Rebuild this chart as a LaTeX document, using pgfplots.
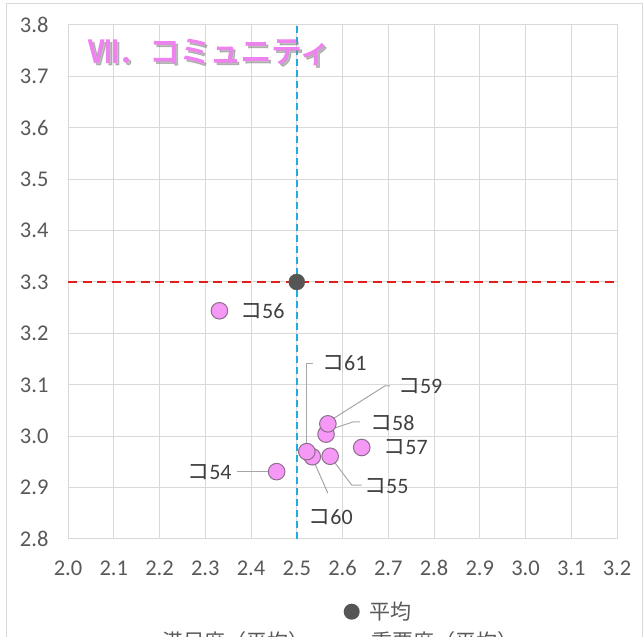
\documentclass[border=0pt]{standalone}
\usepackage{pgfplots}
\pgfplotsset{compat=1.18}
\usepackage{fontspec}
\setmainfont{Carlito}
\newfontfamily\jp{Noto Sans CJK JP}
\newfontfamily\jpb[FakeBold=3.5]{Noto Sans CJK JP}

\definecolor{gridc}{RGB}{217,217,217}
\definecolor{tickc}{RGB}{89,89,89}
\definecolor{labc}{RGB}{64,64,64}
\definecolor{ptfill}{RGB}{246,152,246}
\definecolor{ptdraw}{RGB}{140,110,140}
\definecolor{avgc}{RGB}{85,85,85}
\definecolor{redl}{RGB}{228,30,30}
\definecolor{bluel}{RGB}{30,172,225}
\definecolor{leadc}{RGB}{166,166,166}
\definecolor{titlec}{RGB}{238,130,238}

\pgfplotstableread{
x y
2.456 2.931
2.573 2.961
2.331 3.244
2.642 2.978
2.564 3.004
2.568 3.024
2.534 2.960
2.522 2.970
}\pointsdata

\newcommand{\lab}[1]{{\jp コ}#1}

\begin{document}
\begin{tikzpicture}[x=1bp,y=1bp]
\draw[gridc, line width=1bp] (6.7,-20) rectangle (642.5,633);
\begin{axis}[
  at={(68bp,98bp)}, anchor=south west,
  width=549bp, height=514bp, scale only axis,
  xmin=2, xmax=3.2, ymin=2.8, ymax=3.8,
  xtick={2.0,2.1,2.2,2.3,2.4,2.5,2.6,2.7,2.8,2.9,3.0,3.1,3.2},
  ytick={2.8,2.9,3.0,3.1,3.2,3.3,3.4,3.5,3.6,3.7,3.8},
  grid=major,
  major grid style={line width=1bp, draw=gridc},
  axis line style={line width=1bp, draw=gridc},
  major tick length=0pt,
  tick style={draw=none},
  /pgf/number format/.cd, fixed, fixed zerofill, precision=1, assume math mode=true,
  /pgfplots/.cd,
  ticklabel style={font=\fontsize{22.5bp}{25bp}\selectfont, text=tickc},
  xticklabel style={anchor=north, yshift=-18bp},
  yticklabel style={anchor=east, xshift=-16bp},
  clip=false,
]
% reference lines
\addplot[redl, line width=2.8bp, dash pattern=on 9bp off 5.5bp] coordinates {(2.0,3.3) (3.2,3.3)};
\addplot[bluel, line width=2.5bp, dash pattern=on 7bp off 4bp] coordinates {(2.5,2.8) (2.5,3.8)};
% leader lines
\addplot[leadc, line width=1bp] coordinates {(2.522,2.970) (2.522,3.142) (2.536,3.142)};
\addplot[leadc, line width=1bp] coordinates {(2.576,3.032) (2.693,3.098) (2.704,3.098)};
\addplot[leadc, line width=1bp] coordinates {(2.580,3.015) (2.624,3.028) (2.638,3.028)};
\addplot[leadc, line width=1bp] coordinates {(2.576,2.957) (2.620,2.905) (2.642,2.905)};
\addplot[leadc, line width=1bp] coordinates {(2.536,2.954) (2.568,2.889)};
\addplot[leadc, line width=1bp] coordinates {(2.369,2.931) (2.456,2.931)};
% points
\addplot[only marks, mark=*, mark size=8.3bp, mark options={fill=ptfill, draw=ptdraw, line width=1bp}] table[x=x,y=y] {\pointsdata};
\addplot[only marks, mark=*, mark size=8bp, mark options={fill=avgc, draw=avgc}] coordinates {(2.5,3.3)};
% labels
\begin{scope}[every node/.style={font=\fontsize{22bp}{25bp}\selectfont, text=labc, inner sep=0pt}]
\node[anchor=west] at (axis cs:2.376,3.244) {\lab{56}};
\node[anchor=west] at (axis cs:2.555,3.142) {\lab{61}};
\node[anchor=west] at (axis cs:2.721,3.098) {\lab{59}};
\node[anchor=west] at (axis cs:2.660,3.026) {\lab{58}};
\node[anchor=west] at (axis cs:2.689,2.978) {\lab{57}};
\node[anchor=west] at (axis cs:2.647,2.903) {\lab{55}};
\node[anchor=west] at (axis cs:2.525,2.843) {\lab{60}};
\node[anchor=east] at (axis cs:2.358,2.931) {\lab{54}};
\end{scope}
\end{axis}
% title with shadow
\node[anchor=west, inner sep=0pt, text=black!45, opacity=0.55, font=\jpb\fontsize{30.5bp}{33bp}\selectfont] at (90.5,582.5) {Ⅶ．コミュニティ};
\node[anchor=west, inner sep=0pt, text=titlec, font=\jpb\fontsize{30.5bp}{33bp}\selectfont] at (88,585) {Ⅶ．コミュニティ};
% legend
\fill[avgc] (351.7,25.3) circle (8bp);
\node[anchor=west, inner sep=0pt, text=tickc, font=\jp\fontsize{21bp}{23bp}\selectfont] at (369,25.3) {平均};
\node[anchor=base, inner sep=0pt, text=tickc, font=\jp\fontsize{21bp}{24bp}\selectfont] at (235.5,-12) {満足度（平均）};
\node[anchor=base, inner sep=0pt, text=tickc, font=\jp\fontsize{21bp}{24bp}\selectfont] at (444.5,-12) {重要度（平均）};
\pgfresetboundingbox
\path[use as bounding box] (0,0) rectangle (643,637);
\end{tikzpicture}
\end{document}
